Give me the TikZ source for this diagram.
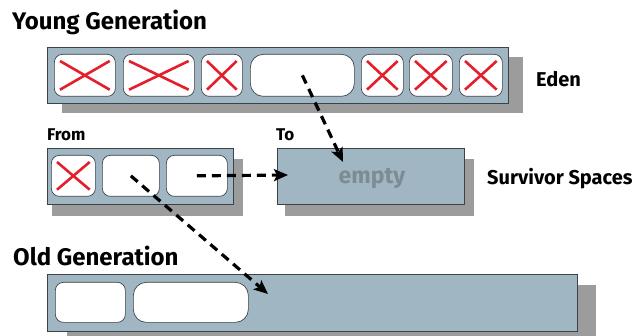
\documentclass[tikz,border=0pt]{standalone}
\usepackage{fontspec}
\setmainfont{Fira Sans}
\usetikzlibrary{arrows.meta}

\definecolor{heapfill}{HTML}{A0B6C2}
\definecolor{heapshade}{HTML}{9C9C9C}
\definecolor{heaprim}{HTML}{3C4348}
\definecolor{deadred}{HTML}{E41E2B}
\definecolor{hint}{HTML}{7E8B93}

\tikzset{
  heap/.style={draw=heaprim, line width=0.9pt, fill=heapfill, inner sep=0pt,
    anchor=north west},
  shade/.style={fill=heapshade},
  cell/.style={draw=heaprim, line width=0.7pt, fill=white, rounded corners=8pt,
    inner sep=0pt, anchor=north west, minimum height=42pt},
  dead/.style={draw=deadred, line width=2.6pt},
  title/.style={font=\bfseries\fontsize{24}{26}\selectfont, anchor=west, inner sep=0pt},
  label/.style={font=\bfseries\fontsize{20}{22}\selectfont, anchor=west, inner sep=0pt},
  small/.style={font=\bfseries\fontsize{17}{19}\selectfont, anchor=west, inner sep=0pt},
  move/.style={line width=3.2pt, dash pattern=on 9pt off 6pt,
    -{Stealth[length=14pt,width=12pt,inset=3pt]}},
}

% cross out a dead object inside a cell
\newcommand\killcell[1]{%
  \draw[dead] ([shift={(6pt,-7pt)}]#1.north west) -- ([shift={(-6pt,7pt)}]#1.south east);
  \draw[dead] ([shift={(6pt,7pt)}]#1.south west) -- ([shift={(-6pt,-7pt)}]#1.north east);
}

\begin{document}
\begin{tikzpicture}[x=1pt, y=-1pt]
  \useasboundingbox (0,0) rectangle (639,336);

  % drop shadows
  \fill[shade] (62,57) rectangle (523,113);
  \fill[shade] (52,159) rectangle (243,216);
  \fill[shade] (285,159) rectangle (474,216);
  \fill[shade] (67,285) rectangle (596,336);

  % young generation: eden
  \node[title] (young) at (12,22) {Young Generation};
  \node[heap, minimum width=461pt, minimum height=56pt] (eden) at (47,47) {};
  \node[cell, minimum width=61pt] (e1) at (54,54) {};
  \node[cell, minimum width=71pt] (e2) at (123,54) {};
  \node[cell, minimum width=41pt] (e3) at (201,54) {};
  \node[cell, minimum width=104pt, rounded corners=13pt] (e4) at (250,54) {};
  \node[cell, minimum width=42pt] (e5) at (361,54) {};
  \node[cell, minimum width=43pt] (e6) at (409,54) {};
  \node[cell, minimum width=43pt] (e7) at (459,54) {};
  \foreach \c in {e1,e2,e3,e5,e6,e7} {\killcell{\c}}
  \node[label] (edenlbl) at (536,79) {Eden};

  % survivor spaces
  \node[small] (fromlbl) at (47,135) {From};
  \node[small] (tolbl) at (276,135) {To};
  \node[heap, minimum width=186pt, minimum height=56pt] (from) at (47,148) {};
  \node[cell, minimum width=44pt, minimum height=41pt] (f1) at (51,155) {};
  \node[cell, minimum width=57pt, minimum height=41pt] (f2) at (102,155) {};
  \node[cell, minimum width=61pt, minimum height=41pt] (f3) at (166,155) {};
  \killcell{f1}
  \node[heap, minimum width=187pt, minimum height=56pt] (to) at (277,148) {};
  \node[font=\bfseries\fontsize{23}{25}\selectfont, text=hint, inner sep=0pt]
    (empty) at (372,178) {empty};
  \node[label] (survlbl) at (487,179) {Survivor Spaces};

  % old generation
  \node[title] (oldlbl) at (13,256) {Old Generation};
  \node[heap, minimum width=530pt, minimum height=57pt] (old) at (47,274) {};
  \node[cell, minimum width=70pt, minimum height=40pt] (o1) at (55,282) {};
  \node[cell, minimum width=115pt, minimum height=40pt, rounded corners=13pt] (o2) at (133,282) {};

  % copying live objects
  \coordinate (toE) at (343,162);
  \coordinate (toF) at (288,175);
  \coordinate (toO) at (268,294);
  \draw[move] (e4.center) -- (toE);
  \draw[move] (f3.center) -- (toF);
  \draw[move] (f2.center) -- (toO);
\end{tikzpicture}
\end{document}
